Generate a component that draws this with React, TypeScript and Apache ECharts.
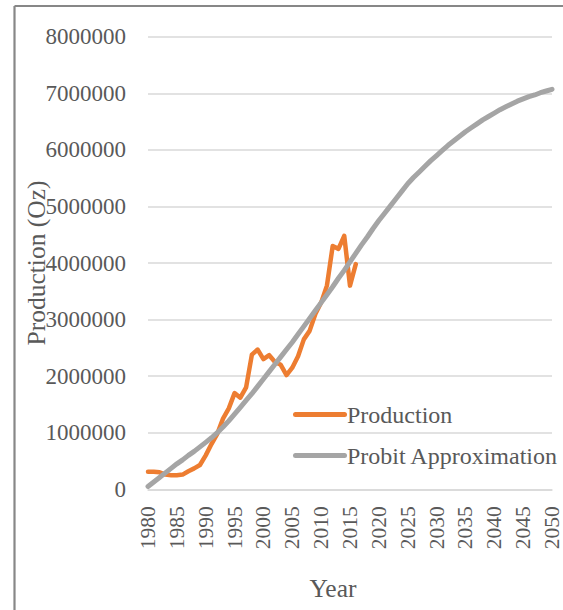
import React, { useEffect, useRef } from "react";
import * as echarts from "echarts";

const productionYears = [
  1980, 1981, 1982, 1983, 1984, 1985, 1986, 1987, 1988, 1989,
  1990, 1991, 1992, 1993, 1994, 1995, 1996, 1997, 1998, 1999,
  2000, 2001, 2002, 2003, 2004, 2005, 2006, 2007, 2008, 2009,
  2010, 2011, 2012, 2013, 2014, 2015, 2016,
];
const productionValues = [
  310000, 310000, 300000, 260000, 250000, 250000, 260000, 320000, 370000, 430000,
  600000, 800000, 980000, 1250000, 1430000, 1700000, 1620000, 1800000, 2380000, 2470000,
  2300000, 2370000, 2250000, 2200000, 2020000, 2150000, 2350000, 2650000, 2800000, 3100000,
  3300000, 3600000, 4300000, 4250000, 4480000, 3600000, 3980000,
];

const probitYears = Array.from({ length: 71 }, (_, i) => 1980 + i);
const probitValues = [
  50000, 130000, 210000, 290000, 370000, 450000, 520000, 600000, 670000, 750000,
  830000, 910000, 1000000, 1100000, 1210000, 1330000, 1450000, 1570000, 1690000, 1820000,
  1950000, 2080000, 2210000, 2340000, 2470000, 2600000, 2740000, 2880000, 3020000, 3160000,
  3300000, 3440000, 3580000, 3730000, 3870000, 4020000, 4170000, 4320000, 4460000, 4610000,
  4750000, 4880000, 5010000, 5140000, 5270000, 5400000, 5510000, 5610000, 5710000, 5810000,
  5900000, 5990000, 6080000, 6160000, 6240000, 6320000, 6390000, 6460000, 6530000, 6590000,
  6650000, 6710000, 6760000, 6810000, 6860000, 6900000, 6940000, 6970000, 7010000, 7040000,
  7070000,
];

const seriesNames = ["Production", "Probit Approximation"];
const xTitle = "Year";
const yTitle = "Production (Oz)";

const FONT = '"Liberation Serif", "Times New Roman", serif';
const TEXT = "#595959";
const LEGEND_ICON = "path://M2.5,0 L51.5,0 A2.5,2.5 0 0 1 51.5,5 L2.5,5 A2.5,2.5 0 0 1 2.5,0 Z";

export default function App() {
  const ref = useRef<HTMLDivElement>(null);
  useEffect(() => {
    if (!ref.current) return;
    const chart = echarts.init(ref.current, null, { renderer: "svg" });
    chart.setOption({
      animation: false,
      backgroundColor: "#ffffff",
      textStyle: { fontFamily: FONT, color: TEXT },
      graphic: [
        {
          type: "line",
          shape: { x1: 14.5, y1: 6, x2: 14.5, y2: 620 },
          style: { stroke: "#878787", lineWidth: 2.2 },
        },
        {
          type: "line",
          shape: { x1: 14.5, y1: 6, x2: 570, y2: 6 },
          style: { stroke: "#878787", lineWidth: 2.2 },
        },
      ],
      grid: { left: 148, right: 11, top: 36.7, bottom: 120.7, containLabel: false },
      legend: {
        orient: "vertical",
        left: 288,
        top: 397,
        itemWidth: 54,
        itemHeight: 5,
        itemGap: 16,
        icon: LEGEND_ICON,
        data: seriesNames,
        textStyle: { fontFamily: FONT, color: TEXT, fontSize: 24, lineHeight: 25, padding: [0, 0, 0, -5] },
      },
      xAxis: {
        type: "value",
        min: 1980,
        max: 2050,
        interval: 5,
        name: xTitle,
        nameLocation: "middle",
        nameGap: 86,
        nameMoveOverlap: false,
        nameTextStyle: { fontFamily: FONT, color: TEXT, fontSize: 25.5, padding: [0, 34, 0, 0] },
        axisLine: { show: true, lineStyle: { color: "#d9d9d9", width: 1.5 } },
        axisTick: { show: false },
        splitLine: { show: false },
        axisLabel: {
          rotate: 90,
          margin: 17,
          fontFamily: FONT,
          color: TEXT,
          fontSize: 21.5,
          formatter: (v: number) => String(v),
        },
      },
      yAxis: {
        type: "value",
        min: 0,
        max: 8000000,
        interval: 1000000,
        name: yTitle,
        nameLocation: "middle",
        nameGap: 99,
        nameMoveOverlap: false,
        nameTextStyle: { fontFamily: FONT, color: TEXT, fontSize: 25.5 },
        axisLine: { show: false },
        axisTick: { show: false },
        splitLine: { show: true, lineStyle: { color: "#d9d9d9", width: 1.5 } },
        axisLabel: {
          margin: 22,
          fontFamily: FONT,
          color: TEXT,
          fontSize: 23,
          formatter: (v: number) => String(v),
        },
      },
      series: [
        {
          name: seriesNames[0],
          type: "line",
          data: productionYears.map((y, i) => [y, productionValues[i]]),
          showSymbol: false,
          symbol: "none",
          lineStyle: { color: "#ED7D31", width: 4.5, cap: "round", join: "round" },
          itemStyle: { color: "#ED7D31" },
          z: 3,
        },
        {
          name: seriesNames[1],
          type: "line",
          data: probitYears.map((y, i) => [y, probitValues[i]]),
          showSymbol: false,
          symbol: "none",
          lineStyle: { color: "#A5A5A5", width: 5, cap: "round", join: "round" },
          itemStyle: { color: "#A5A5A5" },
          z: 4,
        },
      ],
    });
    return () => chart.dispose();
  }, []);
  return (
    <div
      ref={ref}
      style={{ position: "fixed", left: 0, top: 0, width: 563, height: 610 }}
    />
  );
}
